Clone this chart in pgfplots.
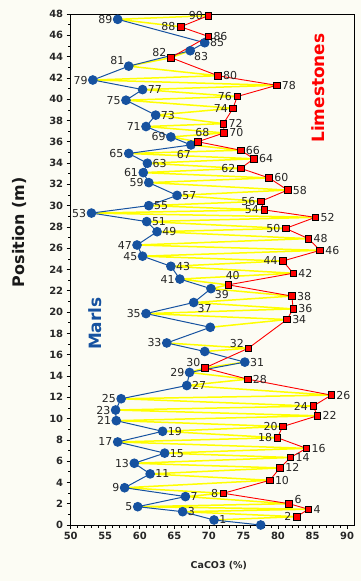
\documentclass[border=0pt]{standalone}
\usepackage{pgfplots}
\pgfplotsset{compat=1.18}
\usepackage{pgfplotstable}
\usepackage{fontspec}
\setmainfont{DejaVu Sans}
\usetikzlibrary{backgrounds}
\definecolor{mblue}{RGB}{22,82,160}
\definecolor{cream}{RGB}{252,252,244}
\definecolor{yel}{RGB}{255,255,0}
% label placement helpers (zero-width boxes set at the data point)
\newcommand{\R}[1]{\raisebox{-4bp}{\rlap{\hspace{5.3bp}#1}}}
\newcommand{\Lf}[1]{\raisebox{-4bp}{\llap{#1\hspace{5.3bp}}}}
\newcommand{\A}[1]{\raisebox{5.5bp}{\makebox[0pt]{\hspace{9bp}#1}}}
\newcommand{\AR}[1]{\raisebox{0.6bp}{\rlap{\hspace{5.5bp}#1}}}
\newcommand{\AL}[1]{\raisebox{1.2bp}{\llap{#1\hspace{4.5bp}}}}
\newcommand{\BR}[1]{\raisebox{-9.5bp}{\rlap{\hspace{4bp}#1}}}
\newcommand{\BL}[1]{\raisebox{-14bp}{\llap{#1\hspace{0bp}}}}

\pgfplotstableread{
x y
70.75 0.47
82.7 0.78
66.2 1.25
84.4 1.48
59.7 1.72
81.6 2.0
66.6 2.67
72.1 2.98
57.8 3.5
78.8 4.2
61.5 4.8
80.3 5.36
59.2 5.8
81.8 6.34
63.6 6.75
84.1 7.2
56.8 7.8
79.9 8.2
63.3 8.8
80.7 9.25
56.6 9.8
85.7 10.26
56.5 10.8
85.1 11.17
57.3 11.86
87.7 12.2
66.8 13.1
75.6 13.7
67.2 14.33
69.4 14.75
75.2 15.3
nan nan
69.4 16.3
75.7 16.6
63.9 17.1
nan nan
70.2 18.57
81.3 19.3
60.9 19.86
82.2 20.3
67.8 20.9
82.0 21.5
70.3 22.2
72.8 22.56
65.8 23.1
82.2 23.65
64.5 24.3
80.7 24.8
60.4 25.25
86.1 25.8
59.6 26.3
84.4 26.9
62.5 27.55
81.1 27.86
61.0 28.5
85.4 28.9
53.0 29.3
78.0 29.6
61.3 30.0
77.5 30.4
65.4 30.96
81.4 31.46
61.3 32.16
78.7 32.6
60.5 33.1
74.6 33.5
61.1 33.98
76.5 34.4
58.4 34.9
74.6 35.2
67.4 35.7
68.4 36.0
64.5 36.45
72.2 36.83
60.9 37.43
72.1 37.7
62.3 38.5
73.5 39.15
58.0 39.9
74.1 40.25
60.4 40.9
79.8 41.3
53.2 41.8
71.3 42.2
58.4 43.1
64.5 43.9
67.3 44.55
nan nan
69.4 45.3
69.9 45.9
nan nan
65.9 46.8
56.8 47.5
69.9 47.84
}\zig

\begin{document}
\begin{tikzpicture}
\begin{axis}[
  scale only axis, width=283.3bp, height=511bp,
  xmin=50, xmax=91, ymin=0, ymax=48,
  xtick={50,55,...,90}, ytick={0,2,...,48},
  minor x tick num=4, minor y tick num=1,
  tick align=outside, tick pos=left,
  major tick length=4bp, minor tick length=2.5bp,
  axis background/.style={fill=cream},
  axis line style={black, line width=0.8bp},
  tick style={black, line width=0.6bp},
  ticklabel style={font=\fontsize{10}{12}\selectfont\bfseries, text=black!85},
  /pgf/number format/assume math mode=true,
  clip=false,
  unbounded coords=jump,
  every node near coord/.append style={anchor=base, inner sep=0pt, outer sep=0pt,
     font=\fontsize{11}{13}\selectfont, text=black!85},
]
\addplot[yel, line width=1.5bp, line join=round] table[x=x,y=y] {\zig};
\addplot[mblue, line width=1.0bp, mark=*, mark size=4.3bp,
  mark options={fill=mblue, draw=mblue},
  point meta=explicit symbolic, nodes near coords,
  ] coordinates {
(77.5,0.0) []
(70.75,0.47) [\R{1}]
(66.2,1.25) [\R{3}]
(59.7,1.72) [\Lf{5}]
(66.6,2.67) [\R{7}]
(57.8,3.5) [\Lf{9}]
(61.5,4.8) [\R{11}]
(59.2,5.8) [\Lf{13}]
(63.6,6.75) [\R{15}]
(56.8,7.8) [\Lf{17}]
(63.3,8.8) [\R{19}]
(56.6,9.8) [\Lf{21}]
(56.5,10.8) [\Lf{23}]
(57.3,11.86) [\Lf{25}]
(66.8,13.1) [\R{27}]
(67.2,14.33) [\Lf{29}]
(75.2,15.3) [\R{31}]
(69.4,16.3) []
(63.9,17.1) [\Lf{33}]
(70.2,18.57) []
(60.9,19.86) [\Lf{35}]
(67.8,20.9) [\BR{37}]
(70.3,22.2) [\BR{39}]
(65.8,23.1) [\Lf{41}]
(64.5,24.3) [\R{43}]
(60.4,25.25) [\Lf{45}]
(59.6,26.3) [\Lf{47}]
(62.5,27.55) [\R{49}]
(61.0,28.5) [\R{51}]
(53.0,29.3) [\Lf{53}]
(61.3,30.0) [\R{55}]
(65.4,30.96) [\R{57}]
(61.3,32.16) [\Lf{59}]
(60.5,33.1) [\Lf{61}]
(61.1,33.98) [\R{63}]
(58.4,34.9) [\Lf{65}]
(67.4,35.7) [\BL{67}]
(64.5,36.45) [\Lf{69}]
(60.9,37.43) [\Lf{71}]
(62.3,38.5) [\R{73}]
(58.0,39.9) [\Lf{75}]
(60.4,40.9) [\R{77}]
(53.2,41.8) [\Lf{79}]
(58.4,43.1) [\AL{81}]
(67.3,44.55) [\BR{83}]
(69.4,45.3) [\R{85}]
(56.8,47.5) [\Lf{89}]
};
\addplot[red, line width=0.9bp, mark=square*, mark size=3.3bp,
  mark options={fill=red, draw=black, line width=0.7bp},
  point meta=explicit symbolic, nodes near coords,
  ] coordinates {
(82.7,0.78) [\Lf{2}]
(84.4,1.48) [\R{4}]
(81.6,2.0) [\AR{6}]
(72.1,2.98) [\Lf{8}]
(78.8,4.2) [\R{10}]
(80.3,5.36) [\R{12}]
(81.8,6.34) [\R{14}]
(84.1,7.2) [\R{16}]
(79.9,8.2) [\Lf{18}]
(80.7,9.25) [\Lf{20}]
(85.7,10.26) [\R{22}]
(85.1,11.17) [\Lf{24}]
(87.7,12.2) [\R{26}]
(75.6,13.7) [\R{28}]
(69.4,14.75) [\AL{30}]
(75.7,16.6) [\AL{32}]
(81.3,19.3) [\R{34}]
(82.2,20.3) [\R{36}]
(82.0,21.5) [\R{38}]
(72.8,22.56) [\A{40}]
(82.2,23.65) [\R{42}]
(80.7,24.8) [\Lf{44}]
(86.1,25.8) [\R{46}]
(84.4,26.9) [\R{48}]
(81.1,27.86) [\Lf{50}]
(85.4,28.9) [\R{52}]
(78.0,29.6) [\Lf{54}]
(77.5,30.4) [\Lf{56}]
(81.4,31.46) [\R{58}]
(78.7,32.6) [\R{60}]
(74.6,33.5) [\Lf{62}]
(76.5,34.4) [\R{64}]
(74.6,35.2) [\R{66}]
(68.4,36.0) [\A{68}]
(72.2,36.83) [\R{70}]
(72.1,37.7) [\R{72}]
(73.5,39.15) [\Lf{74}]
(74.1,40.25) [\Lf{76}]
(79.8,41.3) [\R{78}]
(71.3,42.2) [\R{80}]
(64.5,43.9) [\AL{82}]
(69.9,45.9) [\R{86}]
(65.9,46.8) [\Lf{88}]
(69.9,47.84) [\Lf{90}]
};
\node[rotate=90, font=\fontsize{17}{20}\selectfont\bfseries, text=mblue] at (rel axis cs:0.086,0.394) {Marls};
\node[rotate=90, font=\fontsize{17}{20}\selectfont\bfseries, text=red] at (rel axis cs:0.873,0.855) {Limestones};
\node[rotate=90, font=\fontsize{16}{19}\selectfont\bfseries, text=black!90] at (rel axis cs:-0.179,0.573) {Position (m)};
\node[font=\fontsize{9.5}{11}\selectfont\bfseries, text=black!85] at (rel axis cs:0.523,-0.080) {CaCO3 (\%)};
\coordinate (bl) at (rel axis cs:0,0);
\coordinate (tr) at (rel axis cs:1,1);
\end{axis}
\pgfresetboundingbox
\begin{scope}[on background layer]
\fill[cream] ([shift={(-70.7bp,-56bp)}]bl) rectangle ([shift={(7bp,14bp)}]tr);
\end{scope}
\path[use as bounding box] ([shift={(-70.7bp,-56bp)}]bl) rectangle ([shift={(7bp,14bp)}]tr);
\end{tikzpicture}
\end{document}
